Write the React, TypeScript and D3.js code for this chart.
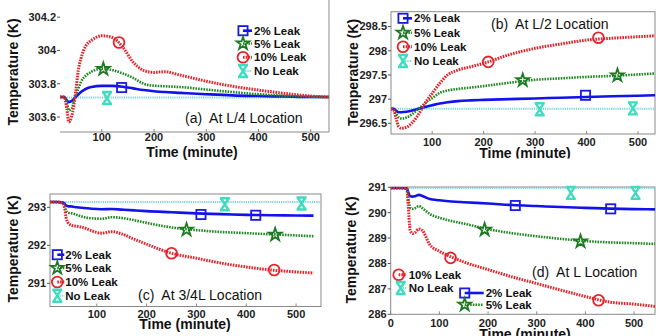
import React from 'react';
import * as d3 from 'd3';

// ---------- Panel (a): At L/4 ----------
const timeA = [20, 28, 33, 37, 42, 50, 55, 60, 70, 80, 100, 120, 140, 160, 180, 200, 220, 250, 300, 350, 400, 450, 500, 535];
const leak2A = [303.72, 303.72, 303.70, 303.69, 303.695, 303.72, 303.735, 303.75, 303.77, 303.78, 303.787, 303.787, 303.782, 303.772, 303.762, 303.755, 303.75, 303.745, 303.737, 303.73, 303.726, 303.723, 303.72, 303.72];
const leak5A = [303.72, 303.72, 303.69, 303.64, 303.65, 303.73, 303.77, 303.81, 303.85, 303.872, 303.89, 303.882, 303.862, 303.835, 303.8, 303.788, 303.785, 303.78, 303.765, 303.75, 303.737, 303.728, 303.722, 303.72];
const leak10A = [303.72, 303.72, 303.65, 303.57, 303.6, 303.75, 303.88, 303.95, 304.03, 304.06, 304.088, 304.078, 304.02, 303.93, 303.88, 303.868, 303.872, 303.852, 303.815, 303.785, 303.762, 303.742, 303.726, 303.72];
const noLeakTimeA = [20, 535];
const noLeakA = [303.717, 303.717];
const mark2A = [[138, 303.777]];
const mark5A = [[103, 303.888]];
const mark10A = [[133, 304.048]];
const mark0A = [[110, 303.714]];
const yTicksA = [303.6, 303.8, 304, 304.2];
const yTickLabelsA = ['303.6', '303.8', '304', '304.2'];

// ---------- Panel (b): At L/2 ----------
const timeB = [20, 25, 30, 35, 40, 50, 60, 70, 80, 90, 100, 115, 130, 150, 175, 200, 250, 300, 350, 400, 450, 500, 533];
const leak2B = [296.8, 296.8, 296.76, 296.73, 296.73, 296.74, 296.76, 296.79, 296.82, 296.85, 296.875, 296.91, 296.935, 296.96, 296.975, 296.985, 297.0, 297.015, 297.03, 297.045, 297.06, 297.07, 297.08];
const leak5B = [296.8, 296.78, 296.7, 296.62, 296.6, 296.62, 296.68, 296.77, 296.86, 296.95, 297.02, 297.13, 297.18, 297.21, 297.24, 297.27, 297.34, 297.4, 297.43, 297.46, 297.48, 297.51, 297.53];
const leak10B = [296.8, 296.78, 296.6, 296.43, 296.4, 296.42, 296.5, 296.63, 296.8, 296.98, 297.12, 297.33, 297.5, 297.6, 297.67, 297.74, 297.92, 298.05, 298.14, 298.22, 298.26, 298.29, 298.31];
const noLeakTimeB = [20, 533];
const noLeakB = [296.8, 296.8];
const mark2B = [[398, 297.08]];
const mark5B = [[276, 297.39], [460, 297.49]];
const mark10B = [[209, 297.77], [423, 298.27]];
const mark0B = [[309, 296.79], [490, 296.81]];
const yTicksB = [296.5, 297, 297.5, 298, 298.5];
const yTickLabelsB = ['296.5', '297', '297.5', '298', '298.5'];

// ---------- Panel (c): At 3/4L ----------
const timeC = [6, 20, 30, 35, 38, 42, 50, 60, 75, 90, 110, 130, 150, 175, 200, 250, 300, 350, 400, 450, 500, 535];
const leak2C = [293.14, 293.14, 293.13, 293.1, 293.05, 293.03, 293.02, 293.0, 292.98, 292.96, 292.95, 292.955, 292.94, 292.92, 292.9, 292.87, 292.84, 292.82, 292.8, 292.79, 292.785, 292.78];
const leak5C = [293.14, 293.14, 293.12, 293.05, 292.92, 292.86, 292.84, 292.8, 292.74, 292.71, 292.7, 292.74, 292.72, 292.66, 292.59, 292.47, 292.4, 292.35, 292.32, 292.29, 292.26, 292.24];
const leak10C = [293.14, 293.14, 293.12, 293.0, 292.75, 292.6, 292.52, 292.5, 292.46, 292.38, 292.32, 292.36, 292.3, 292.16, 292.03, 291.79, 291.66, 291.53, 291.43, 291.35, 291.3, 291.27];
const noLeakTimeC = [6, 550];
const noLeakC = [293.14, 293.14];
const mark2C = [[309, 292.81], [419, 292.79]];
const mark5C = [[280, 292.41], [458, 292.28]];
const mark10C = [[250, 291.79], [456, 291.35]];
const mark0C = [[357, 293.08], [511, 293.1]];
const yTicksC = [291, 292, 293];
const yTickLabelsC = ['291', '292', '293'];

// ---------- Panel (d): At L ----------
const timeD = [0, 20, 33, 36, 40, 45, 50, 58, 65, 80, 100, 125, 150, 200, 250, 300, 350, 400, 450, 500, 543];
const leak2D = [290.97, 290.97, 290.96, 290.8, 290.65, 290.63, 290.65, 290.7, 290.66, 290.54, 290.49, 290.44, 290.41, 290.36, 290.3, 290.26, 290.22, 290.19, 290.16, 290.14, 290.13];
const leak5D = [290.97, 290.97, 290.96, 290.6, 290.2, 290.15, 290.18, 290.26, 290.18, 289.95, 289.8, 289.67, 289.57, 289.35, 289.19, 289.07, 288.97, 288.88, 288.83, 288.8, 288.77];
const leak10D = [290.97, 290.97, 290.96, 290.3, 289.3, 289.18, 289.22, 289.36, 289.3, 288.75, 288.48, 288.25, 288.06, 287.76, 287.47, 287.21, 286.95, 286.7, 286.48, 286.4, 286.31];
const noLeakTimeD = [0, 543];
const noLeakD = [290.97, 290.97];
const mark2D = [[256, 290.28], [452, 290.15]];
const mark5D = [[193, 289.33], [390, 288.87]];
const mark10D = [[123, 288.22], [427, 286.55]];
const mark0D = [[370, 290.78], [503, 290.78]];
const yTicksD = [286, 287, 288, 289, 290, 291];
const yTickLabelsD = ['286', '287', '288', '289', '290', '291'];

const xTicks = [100, 200, 300, 400, 500];
const xTicksD = [0, 100, 200, 300, 400, 500];
const seriesNames = ['2% Leak', '5% Leak', '10% Leak', 'No Leak'];

const FONT = '"Liberation Sans", Arial, Helvetica, sans-serif';
const STYLE: Record<string, any> = {
  sq: { stroke: '#1212ee', width: 2.6, dash: null },
  star: { stroke: '#1e8a22', width: 2.6, dash: '1.6 1.1' },
  circ: { stroke: '#e6222a', width: 3, dash: '1.6 1.1' },
  hg: { stroke: '#74d6dc', width: 2, dash: '1.2 1' },
};
const MARKCOL: Record<string, string> = { sq: '#1a1ae6', star: '#1e7a22', circ: '#e6222a', hg: '#3fdcc0' };
const KINDS = ['sq', 'star', 'circ', 'hg'];

function Marker({ kind, x, y }: { kind: string; x: number; y: number }) {
  const c = MARKCOL[kind];
  if (kind === 'sq') return <rect x={x - 4.6} y={y - 4.6} width={9.2} height={9.2} fill="none" stroke={c} strokeWidth={1.8} />;
  if (kind === 'circ') return <circle cx={x} cy={y} r={5.4} fill="none" stroke={c} strokeWidth={1.8} />;
  if (kind === 'star') {
    const p = d3.symbol().type(d3.symbolStar).size(50)();
    return <path d={p as string} transform={`translate(${x},${y})`} fill="none" stroke={c} strokeWidth={1.8} />;
  }
  return (
    <path
      d={`M${x - 5},${y - 6}H${x + 5}M${x - 5},${y + 6}H${x + 5}M${x - 4},${y - 6}L${x + 4},${y + 6}M${x + 4},${y - 6}L${x - 4},${y + 6}`}
      stroke={c}
      strokeWidth={2.4}
      fill="none"
    />
  );
}

type PanelProps = {
  id: string;
  times: number[];
  series: number[][];
  noLeakT: number[];
  noLeakV: number[];
  marks: number[][][];
  xDomain: number[];
  xRange: number[];
  yDomain: number[];
  yRange: number[];
  xTickVals: number[];
  yTickVals: number[];
  yTickLabels: string[];
  xTickY: number;
  box: 'full' | 'br';
  yTitle: number[];
  xTitle: number[];
  xTitleClip?: number;
  annot: string;
  annotPos: number[];
  legend: { k: number; x: number; y: number; seg: number; tx: number }[];
};

function Panel(p: PanelProps) {
  const x = d3.scaleLinear().domain(p.xDomain).range(p.xRange);
  const y = d3.scaleLinear().domain(p.yDomain).range(p.yRange);
  const [x0, x1] = p.xRange;
  const [yb, yt] = p.yRange;
  const line = d3
    .line<number[]>()
    .x((d) => x(d[0]))
    .y((d) => y(d[1]))
    .curve(d3.curveMonotoneX);
  const clipId = 'clip' + p.id;
  const allLines: { k: string; d: string }[] = [];
  allLines.push({ k: 'hg', d: line(p.noLeakT.map((t, i) => [t, p.noLeakV[i]])) as string });
  p.series.forEach((vals, si) => {
    allLines.push({ k: KINDS[si], d: line(p.times.map((t, i) => [t, vals[i]])) as string });
  });
  const axisCol = '#8a8a8a';
  return (
    <g>
      <defs>
        <clipPath id={clipId}>
          <rect x={x0} y={yt} width={x1 - x0} height={yb - yt} />
        </clipPath>
        {p.xTitleClip ? (
          <clipPath id={clipId + 't'}>
            <rect x={x0 - 80} y={0} width={400} height={p.xTitleClip} />
          </clipPath>
        ) : null}
      </defs>
      {p.box === 'full' ? (
        <rect x={x0} y={yt} width={x1 - x0} height={yb - yt} fill="none" stroke={axisCol} strokeWidth={1} />
      ) : (
        <path d={`M${x0},${yb}H${x1}V${yt}`} fill="none" stroke={axisCol} strokeWidth={1} />
      )}
      {p.yTickVals.map((v, i) => (
        <g key={'y' + i}>
          <line x1={x0 - 3} x2={x0} y1={y(v)} y2={y(v)} stroke="#555" strokeWidth={1} />
          <text x={x0 - 4} y={y(v)} dy="0.35em" textAnchor="end" fontSize={11} fontWeight="bold" fill="#222">
            {p.yTickLabels[i]}
          </text>
        </g>
      ))}
      {p.xTickVals.map((v, i) => (
        <g key={'x' + i}>
          <line x1={x(v)} x2={x(v)} y1={yb} y2={yb - 3} stroke={axisCol} strokeWidth={1} />
          <text x={x(v)} y={p.xTickY} textAnchor="middle" fontSize={11} fontWeight="bold" fill="#222">
            {v}
          </text>
        </g>
      ))}
      <g clipPath={`url(#${clipId})`}>
        {allLines.map((l, i) => (
          <path
            key={i}
            d={l.d}
            fill="none"
            stroke={STYLE[l.k].stroke}
            strokeWidth={STYLE[l.k].width}
            strokeDasharray={STYLE[l.k].dash || undefined}
          />
        ))}
      </g>
      {p.marks.map((ms, si) =>
        ms.map((m, j) => <Marker key={si + '-' + j} kind={KINDS[si]} x={x(m[0])} y={y(m[1])} />)
      )}
      {p.legend.map((L, i) => {
        const k = KINDS[L.k];
        return (
          <g key={'l' + i}>
            <line
              x1={L.x}
              x2={L.x + L.seg}
              y1={L.y}
              y2={L.y}
              stroke={STYLE[k].stroke}
              strokeWidth={STYLE[k].width}
              strokeDasharray={STYLE[k].dash || undefined}
            />
            <Marker kind={k} x={L.x} y={L.y} />
            <text x={L.x + L.tx} y={L.y} dy="0.35em" fontSize={11.5} fontWeight="bold" fill="#111">
              {seriesNames[L.k]}
            </text>
          </g>
        );
      })}
      <text x={p.annotPos[0]} y={p.annotPos[1]} fontSize={14} fill="#111" style={{ whiteSpace: 'pre' }}>
        {p.annot}
      </text>
      <text
        transform={`translate(${p.yTitle[0]},${p.yTitle[1]}) rotate(-90)`}
        dy="0.35em"
        textAnchor="middle"
        fontSize={14}
        fontWeight="bold"
        fill="#111"
      >
        Temperature (K)
      </text>
      <g clipPath={p.xTitleClip ? `url(#${clipId}t)` : undefined}>
        <text x={p.xTitle[0]} y={p.xTitle[1]} textAnchor="middle" fontSize={14} fontWeight="bold" fill="#111">
          Time (minute)
        </text>
      </g>
    </g>
  );
}

export default function App() {
  return (
    <svg
      width={656}
      height={336}
      viewBox="0 0 656 336"
      style={{ position: 'absolute', left: 0, top: 0, background: 'white', fontFamily: FONT }}
    >
      <rect x={0} y={0} width={656} height={336} fill="white" />
      <Panel
        id="a"
        times={timeA}
        series={[leak2A, leak5A, leak10A]}
        noLeakT={noLeakTimeA}
        noLeakV={noLeakA}
        marks={[mark2A, mark5A, mark10A, mark0A]}
        xDomain={[20, 535]}
        xRange={[60, 329]}
        yDomain={[303.51, 304.303]}
        yRange={[132, 0]}
        xTickVals={xTicks}
        yTickVals={yTicksA}
        yTickLabels={yTickLabelsA}
        xTickY={141}
        box="br"
        yTitle={[13, 72]}
        xTitle={[192, 157]}
        annot="(a)  At L/4 Location"
        annotPos={[185, 123]}
        legend={[
          { k: 0, x: 243, y: 30.7, seg: 9, tx: 11 },
          { k: 1, x: 243, y: 43.5, seg: 9, tx: 11 },
          { k: 2, x: 243, y: 57.3, seg: 9, tx: 11 },
          { k: 3, x: 243, y: 71, seg: 9, tx: 11 },
        ]}
      />
      <Panel
        id="b"
        times={timeB}
        series={[leak2B, leak5B, leak10B]}
        noLeakT={noLeakTimeB}
        noLeakV={noLeakB}
        marks={[mark2B, mark5B, mark10B, mark0B]}
        xDomain={[20, 533]}
        xRange={[391, 655]}
        yDomain={[296.28, 298.807]}
        yRange={[134, 11.7]}
        xTickVals={xTicks}
        yTickVals={yTicksB}
        yTickLabels={yTickLabelsB}
        xTickY={145.5}
        box="full"
        yTitle={[353, 72.5]}
        xTitle={[525, 157.5]}
        xTitleClip={158.5}
        annot="(b)  At L/2 Location"
        annotPos={[491, 29]}
        legend={[
          { k: 0, x: 403, y: 18.3, seg: 9, tx: 11 },
          { k: 1, x: 403, y: 32.7, seg: 9, tx: 11 },
          { k: 2, x: 403, y: 46.7, seg: 9, tx: 11 },
          { k: 3, x: 403, y: 61, seg: 9, tx: 11 },
        ]}
      />
      <Panel
        id="c"
        times={timeC}
        series={[leak2C, leak5C, leak10C]}
        noLeakT={noLeakTimeC}
        noLeakV={noLeakC}
        marks={[mark2C, mark5C, mark10C, mark0C]}
        xDomain={[6, 550]}
        xRange={[50, 321]}
        yDomain={[290.39, 293.35]}
        yRange={[306.5, 194]}
        xTickVals={xTicks}
        yTickVals={yTicksC}
        yTickLabels={yTickLabelsC}
        xTickY={317.5}
        box="full"
        yTitle={[13, 249]}
        xTitle={[185, 329]}
        annot="(c)  At 3/4L Location"
        annotPos={[138, 300]}
        legend={[
          { k: 0, x: 57.3, y: 254.7, seg: 7, tx: 8 },
          { k: 1, x: 57.3, y: 268, seg: 7, tx: 8 },
          { k: 2, x: 57.3, y: 282, seg: 7, tx: 8 },
          { k: 3, x: 57.3, y: 295.7, seg: 7, tx: 8 },
        ]}
      />
      <Panel
        id="d"
        times={timeD}
        series={[leak2D, leak5D, leak10D]}
        noLeakT={noLeakTimeD}
        noLeakV={noLeakD}
        marks={[mark2D, mark5D, mark10D, mark0D]}
        xDomain={[0, 543]}
        xRange={[390.7, 655]}
        yDomain={[286, 291.01]}
        yRange={[314.3, 187]}
        xTickVals={xTicksD}
        yTickVals={yTicksD}
        yTickLabels={yTickLabelsD}
        xTickY={327}
        box="full"
        yTitle={[351, 250]}
        xTitle={[525, 339]}
        annot="(d)  At L Location"
        annotPos={[532, 277]}
        legend={[
          { k: 2, x: 398.7, y: 274.7, seg: 8, tx: 10 },
          { k: 3, x: 400.7, y: 288, seg: 6, tx: 8 },
          { k: 0, x: 464.7, y: 293, seg: 19, tx: 21 },
          { k: 1, x: 464.7, y: 304.7, seg: 19, tx: 21 },
        ]}
      />
    </svg>
  );
}
